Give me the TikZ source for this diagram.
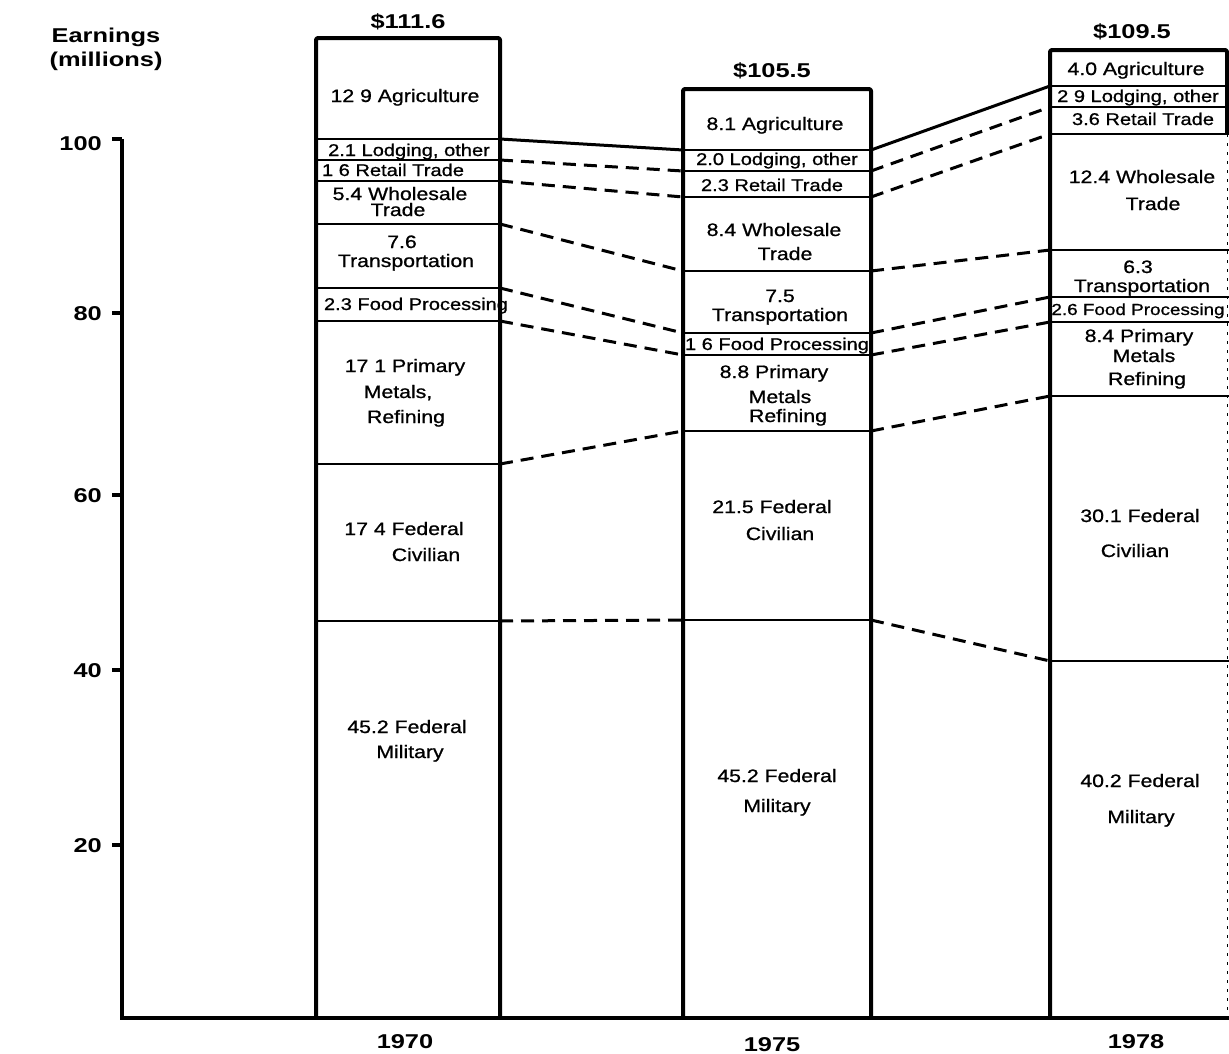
\documentclass[tikz,border=0pt]{standalone}
\usepackage{fontspec}
\setmainfont{Liberation Sans}
\newfontfamily\innerfont{Liberation Sans}[FakeStretch=1.18,FakeBold=0.9]
\newfontfamily\outerfont{Liberation Sans}[FakeStretch=1.27]
\begin{document}
\begin{tikzpicture}[x=1pt,y=-1pt,
  barline/.style={line width=4pt,line join=round,rounded corners=2pt},
  divline/.style={line width=2.8pt},
  axisline/.style={line width=3.6pt,line join=miter},
  solidlink/.style={line width=3pt},
  dashlink/.style={line width=3pt,dash pattern=on 13pt off 8pt},
  lab/.style={font=\innerfont\fontsize{18}{20}\selectfont,inner sep=0pt,anchor=base},
  sm/.style={font=\innerfont\fontsize{17}{19}\selectfont,inner sep=0pt,anchor=base},
  big/.style={font=\outerfont\bfseries\fontsize{20}{22}\selectfont,inner sep=0pt,anchor=base},
  ax/.style={font=\outerfont\bfseries\fontsize{20}{22}\selectfont,inner sep=0pt,anchor=base east},
]
\useasboundingbox (0,0) rectangle (1229,1053);

% boundary coordinates
\foreach \y [count=\i] in {139,160,181,224,288,321,464,621}{
  \coordinate (AL\i) at (316,\y); \coordinate (AR\i) at (500,\y);}
\foreach \y [count=\i] in {150,171,197,271,333,355,431,620}{
  \coordinate (BL\i) at (683,\y); \coordinate (BR\i) at (871,\y);}
\foreach \y [count=\i] in {86,107,134,250,297,322,396,661}{
  \coordinate (CL\i) at (1050,\y); \coordinate (CR\i) at (1229,\y);}

% axis
\coordinate (ax0) at (122,139);
\coordinate (ax1) at (122,1018);
\coordinate (ax2) at (1229,1018);
\draw[axisline] (ax0) -- (ax1) -- (ax2);
\foreach \y/\t in {139/100,313/80,495/60,670/40,845/20}{
  \coordinate (tk\t) at (112,\y);
  \coordinate (tke\t) at (122,\y);
  \draw[axisline] (tk\t) -- (tke\t);
}
\node[ax] (l100) at (102,150) {100};
\node[ax] (l80) at (102,320) {80};
\node[ax] (l60) at (102,502) {60};
\node[ax] (l40) at (102,677) {40};
\node[ax] (l20) at (102,852) {20};
\node[big] (earn) at (106,42) {Earnings};
\node[big] (mill) at (106,66) {(millions)};

% bars
\draw[barline] (316,1018) -- (316,38) -- (500,38) -- (500,1018);
\draw[barline] (683,1018) -- (683,89) -- (871,89) -- (871,1018);
\draw[barline] (1050,1018) -- (1050,50) -- (1227,50) -- (1227,134);
\draw[line width=1pt,dash pattern=on 3pt off 6pt] (1227,134) -- (1227,1018);

\foreach \i in {1,...,8}{
  \draw[divline] (AL\i) -- (AR\i);
  \draw[divline] (BL\i) -- (BR\i);
  \draw[divline] (CL\i) -- (CR\i);
}

% connectors
\draw[solidlink] (AR1) -- (BL1);
\draw[solidlink] (BR1) -- (CL1);
\foreach \i in {2,...,8}{
  \draw[dashlink] (AR\i) -- (BL\i);
  \draw[dashlink] (BR\i) -- (CL\i);
}

% totals and years
\node[big] (t70) at (408,28) {\$111.6};
\node[big] (t75) at (772,77) {\$105.5};
\node[big] (t78) at (1132,38) {\$109.5};
\node[big] (y70) at (405,1048) {1970};
\node[big] (y75) at (772,1051) {1975};
\node[big] (y78) at (1136,1048) {1978};

% 1970 labels
\node[lab] (a1) at (405,102) {12 9 Agriculture};
\node[sm]  (a2) at (409,156) {2.1 Lodging, other};
\node[sm]  (a3) at (393,176) {1 6 Retail Trade};
\node[lab] (a4) at (400,200) {5.4 Wholesale};
\node[lab] (a4b) at (398,216) {Trade};
\node[lab] (a5) at (402,248) {7.6};
\node[lab] (a5b) at (406,267) {Transportation};
\node[sm]  (a6) at (416,310) {2.3 Food Processing};
\node[lab] (a7) at (405,372) {17 1 Primary};
\node[lab] (a7b) at (398,398) {Metals,};
\node[lab] (a7c) at (406,423) {Refining};
\node[lab] (a8) at (404,535) {17 4 Federal};
\node[lab] (a8b) at (426,561) {Civilian};
\node[lab] (a9) at (407,733) {45.2 Federal};
\node[lab] (a9b) at (410,758) {Military};

% 1975 labels
\node[lab] (b1) at (775,130) {8.1 Agriculture};
\node[sm]  (b2) at (777,165) {2.0 Lodging, other};
\node[sm]  (b3) at (772,191) {2.3 Retail Trade};
\node[lab] (b4) at (774,236) {8.4 Wholesale};
\node[lab] (b4b) at (785,260) {Trade};
\node[lab] (b5) at (780,302) {7.5};
\node[lab] (b5b) at (780,321) {Transportation};
\node[sm]  (b6) at (777,350) {1 6 Food Processing};
\node[lab] (b7) at (774,378) {8.8 Primary};
\node[lab] (b7b) at (780,403) {Metals};
\node[lab] (b7c) at (788,422) {Refining};
\node[lab] (b8) at (772,513) {21.5 Federal};
\node[lab] (b8b) at (780,540) {Civilian};
\node[lab] (b9) at (777,782) {45.2 Federal};
\node[lab] (b9b) at (777,812) {Military};

% 1978 labels
\node[lab] (c1) at (1136,75) {4.0 Agriculture};
\node[sm]  (c2) at (1138,102) {2 9 Lodging, other};
\node[sm]  (c3) at (1143,125) {3.6 Retail Trade};
\node[lab] (c4) at (1142,183) {12.4 Wholesale};
\node[lab] (c4b) at (1153,210) {Trade};
\node[lab] (c5) at (1138,273) {6.3};
\node[lab] (c5b) at (1142,292) {Transportation};
\node[sm,font=\innerfont\fontsize{16}{18}\selectfont] (c6) at (1138,315) {2.6 Food Processing};
\node[lab] (c7) at (1139,342) {8.4 Primary};
\node[lab] (c7b) at (1144,362) {Metals};
\node[lab] (c7c) at (1147,385) {Refining};
\node[lab] (c8) at (1140,522) {30.1 Federal};
\node[lab] (c8b) at (1135,557) {Civilian};
\node[lab] (c9) at (1140,787) {40.2 Federal};
\node[lab] (c9b) at (1141,823) {Military};
\end{tikzpicture}
\end{document}
